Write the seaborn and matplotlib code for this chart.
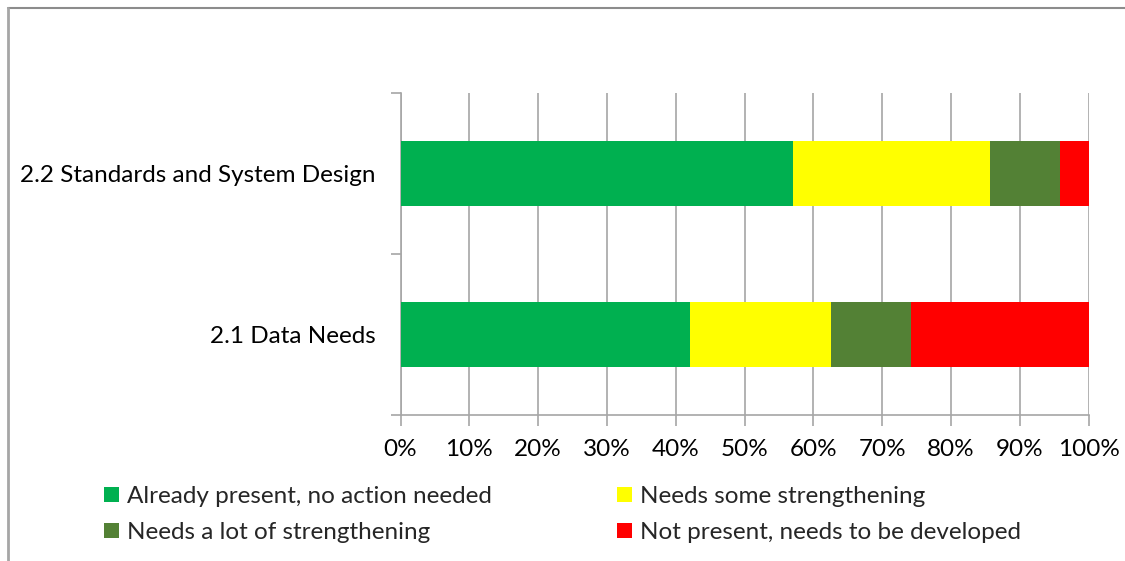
import matplotlib
matplotlib.use("Agg")
import matplotlib.pyplot as plt
import seaborn as sns
import numpy as np
import pandas as pd
from matplotlib.lines import Line2D
from matplotlib.patches import Patch

categories = ["2.2 Standards and System Design", "2.1 Data Needs"]
series_names = ["Already present, no action needed", "Needs some strengthening",
                "Needs a lot of strengthening", "Not present, needs to be developed"]
already_present = [57.1, 42.1]
some_strengthening = [28.6, 20.5]
lot_strengthening = [10.2, 11.6]
not_present = [4.1, 25.8]
colors = ["#00B050", "#FFFF00", "#538135", "#FF0000"]
x_ticks = [0, 10, 20, 30, 40, 50, 60, 70, 80, 90, 100]

sns.set_theme(style="white")
plt.rcParams['font.family'] = ['Lato', 'DejaVu Sans']
FS = 17.5

fig = plt.figure(figsize=(11.25, 5.61), dpi=100)
ax = fig.add_axes([400.5 / 1125, 1 - 415 / 561, 688.2 / 1125, 322 / 561])

vals = np.array([already_present, some_strengthening, lot_strengthening, not_present])
cum = np.cumsum(vals, axis=0)
for i in range(len(series_names) - 1, -1, -1):
    df = pd.DataFrame({"value": cum[i], "cat": categories})
    sns.barplot(data=df, x="value", y="cat", color=colors[i], width=0.4,
                orient="h", ax=ax, saturation=1, zorder=3, edgecolor="none",
                linewidth=0)

gc = "#A6A6A6"
ax.set_xlim(0, 100)
ax.set_ylim(1.5, -0.5)
ax.set_xticks(x_ticks)
ax.set_xticklabels([f"{t}%" for t in x_ticks])
ax.set_xlabel("")
ax.set_ylabel("")
ax.grid(axis="x", color=gc, linewidth=1.2, zorder=0)
ax.grid(axis="y", visible=False)
ax.set_axisbelow(True)
for s in ["top", "right"]:
    ax.spines[s].set_visible(False)
for s in ["left", "bottom"]:
    ax.spines[s].set_color(gc)
    ax.spines[s].set_linewidth(1.2)

ax.set_yticks([0, 1])
ax.set_yticklabels(categories)
ax.set_yticks([-0.5, 0.5, 1.5], minor=True)
ax.tick_params(axis="y", which="major", length=0, pad=18, labelsize=FS, colors="black")
ax.tick_params(axis="y", which="minor", length=7, width=1.2, color=gc, direction="out", left=True)
ax.tick_params(axis="x", which="major", length=8, width=1.2, color=gc, direction="out",
               bottom=True, pad=9, labelsize=FS, labelcolor="black")

# Legend
order = [0, 2, 1, 3]
handles = [Patch(facecolor=colors[i], edgecolor="none") for i in order]
labels = [series_names[i] for i in order]
fig.legend(handles, labels, ncol=2, loc="upper left",
           bbox_to_anchor=(104 / 1125, 1 - 486 / 561), frameon=False,
           fontsize=FS, handlelength=0.6, handleheight=0.6, handletextpad=0.35,
           columnspacing=5.15, labelspacing=0.62, borderaxespad=0, borderpad=0)

# Chart border (partially visible)
fig.add_artist(Line2D([8 / 1125, 1.0], [1 - 8 / 561, 1 - 8 / 561],
                      transform=fig.transFigure, color="#8C8C8C", linewidth=1.5))
fig.add_artist(Line2D([8 / 1125, 8 / 1125], [0, 1 - 8 / 561],
                      transform=fig.transFigure, color="#A6A6A6", linewidth=2))

fig.savefig("out.png", dpi=100)
